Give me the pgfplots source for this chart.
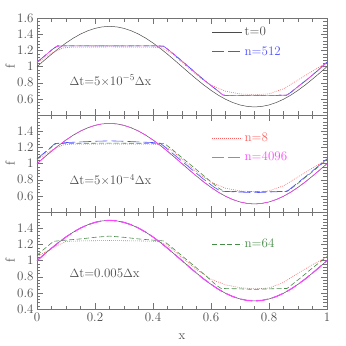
\documentclass[border=0pt]{standalone}
\usepackage{pgfplots}
\pgfplotsset{compat=1.18}
\usepackage{pgfplotstable}

\definecolor{cblk}{RGB}{75,75,75}
\definecolor{cred}{RGB}{255,95,95}
\definecolor{cgreen}{RGB}{70,140,70}
\definecolor{cblue}{RGB}{80,80,255}
\definecolor{cmag}{RGB}{255,70,255}

% initial profile, t=0
\pgfplotstableread{
x f
0 1.0
0.025 1.0782
0.05 1.1545
0.075 1.2270
0.1 1.2939
0.125 1.3536
0.15 1.4045
0.175 1.4455
0.2 1.4755
0.225 1.4938
0.25 1.5
0.275 1.4938
0.3 1.4755
0.325 1.4455
0.35 1.4045
0.375 1.3536
0.4 1.2939
0.425 1.2270
0.45 1.1545
0.475 1.0782
0.5 1.0
0.525 0.9218
0.55 0.8455
0.575 0.7730
0.6 0.7061
0.625 0.6464
0.65 0.5955
0.675 0.5545
0.7 0.5245
0.725 0.5062
0.75 0.5
0.775 0.5062
0.8 0.5245
0.825 0.5545
0.85 0.5955
0.875 0.6464
0.9 0.7061
0.925 0.7730
0.95 0.8455
0.975 0.9218
1.0 1.0
}\sine

% flattened profile (small dt)
\pgfplotstableread{
x f
0 1.055
0.02 1.115
0.04 1.175
0.055 1.22
0.07 1.256
0.1 1.258
0.25 1.258
0.4 1.258
0.436 1.255
0.46 1.19
0.5 1.07
0.54 0.945
0.58 0.822
0.62 0.71
0.64 0.65
0.65 0.643
0.75 0.643
0.86 0.645
0.875 0.68
0.9 0.752
0.94 0.866
0.97 0.958
1.0 1.055
}\flat

% n=8
\pgfplotstableread{
x f
0 1.05
0.03 1.12
0.06 1.185
0.09 1.232
0.12 1.242
0.25 1.245
0.4 1.242
0.43 1.232
0.47 1.15
0.52 0.99
0.56 0.87
0.6 0.77
0.65 0.695
0.7 0.662
0.75 0.652
0.8 0.662
0.85 0.725
0.9 0.835
0.95 0.945
1.0 1.05
}\neight

\pgfplotstableread{
x f
0 1.055
0.02 1.115
0.04 1.175
0.065 1.248
0.1 1.252
0.25 1.255
0.4 1.252
0.44 1.248
0.465 1.18
0.505 1.06
0.545 0.94
0.585 0.82
0.625 0.70
0.645 0.655
0.75 0.652
0.862 0.655
0.875 0.685
0.91 0.785
0.95 0.90
0.975 0.975
1 1.05
}\gtwo

\pgfplotstableread{
x f
0 1.06
0.02 1.12
0.04 1.18
0.062 1.25
0.1 1.262
0.2 1.278
0.25 1.283
0.3 1.278
0.4 1.262
0.425 1.255
0.45 1.18
0.49 1.06
0.53 0.94
0.57 0.82
0.61 0.71
0.632 0.66
0.65 0.655
0.75 0.64
0.85 0.655
0.865 0.665
0.9 0.765
0.94 0.88
0.97 0.97
1 1.06
}\btwo

\pgfplotstableread{
x f
0 1.065
0.02 1.13
0.04 1.19
0.057 1.24
0.1 1.255
0.15 1.27
0.2 1.29
0.25 1.305
0.3 1.29
0.35 1.27
0.4 1.255
0.436 1.245
0.46 1.18
0.5 1.06
0.54 0.94
0.58 0.82
0.62 0.69
0.635 0.655
0.7 0.65
0.75 0.643
0.8 0.65
0.862 0.655
0.875 0.69
0.91 0.79
0.95 0.91
0.975 0.98
1 1.05
}\gthree

\pgfplotstableread{
x f
0 1.05
0.03 1.11
0.06 1.17
0.1 1.24
0.15 1.245
0.25 1.25
0.35 1.245
0.42 1.24
0.45 1.19
0.5 1.04
0.55 0.89
0.6 0.77
0.65 0.70
0.7 0.665
0.75 0.65
0.8 0.66
0.85 0.73
0.9 0.845
0.95 0.95
1 1.05
}\rthree

\pgfplotsset{
  panel/.style={
    width=290pt, height=96.67pt, scale only axis,
    xmin=0, xmax=1, ymin=0.4, ymax=1.6,
    xtick={0,0.2,0.4,0.6,0.8,1}, minor x tick num=3,
    ytick={0.4,0.6,0.8,1,1.2,1.4,1.6}, minor y tick num=4,
    tick align=inside, major tick length=6pt, minor tick length=3.5pt,
    xticklabels={},
    axis line style={black!55},
    every tick/.style={black!55},
    tick label style={font=\fontsize{13}{15}\selectfont, text=cblk},
    ylabel={f},
    ylabel style={at={(axis description cs:-0.093,0.5)}, anchor=center,
      font=\fontsize{13}{15}\selectfont, text=cblk},
    legend style={draw=none, fill=none, font=\fontsize{13}{15}\selectfont,
      row sep=5pt, inner sep=0pt, anchor=north west},
    legend cell align=left,
    legend image code/.code={\draw[##1] (0pt,0pt) -- (30pt,0pt);},
  },
  tzero/.style={cblk, line width=0.5pt},
  neight/.style={cred, line width=0.6pt, dash pattern=on 0.8pt off 1.2pt},
  nsixfour/.style={cgreen, line width=0.6pt, dash pattern=on 5pt off 2.5pt},
  nfive/.style={cblue, line width=0.6pt, dash pattern=on 12pt off 4pt},
  nfour/.style={cmag, line width=0.6pt, dash pattern=on 12pt off 4pt},
}

\newcommand{\lab}{\fontsize{13}{15}\selectfont}

\begin{document}
\begin{tikzpicture}[x=1pt,y=1pt]
% top panel
\begin{axis}[panel, at={(37pt,231pt)}, anchor=south west,
  yticklabels={,0.6,0.8,1,1.2,1.4,1.6},
  legend style={at={(axis description cs:0.603,0.93)}}]
  \addplot[tzero] table {\sine};
  \addlegendentry{\textcolor{cblk}{t=0}}
  \addplot[neight, forget plot] table {\neight};
  \addplot[nsixfour, forget plot] table {\flat};
  \addplot[nfive] table {\flat};
  \addlegendentry{\textcolor{cblue}{n=512}}
  \addplot[nfour, dash phase=8pt, forget plot] table {\flat};
  \node[anchor=west, text=cblk, font=\lab] at (axis description cs:0.1,0.354)
    {$\Delta$t=5$\times$10$^{-5}$$\Delta$x};
\end{axis}
% middle panel
\begin{axis}[panel, at={(37pt,134pt)}, anchor=south west,
  yticklabels={,0.6,0.8,1,1.2,1.4,},
  legend style={at={(axis description cs:0.603,0.84)}}]
  \addplot[tzero, forget plot] table {\sine};
  \addplot[neight] table {\neight};
  \addlegendentry{\textcolor{cred}{n=8}}
  \addplot[nsixfour, forget plot] table {\gtwo};
  \addplot[nfive, forget plot] table {\btwo};
  \addplot[nfour] table {\sine};
  \addlegendentry{\textcolor{cmag}{n=4096}}
  \node[anchor=west, text=cblk, font=\lab] at (axis description cs:0.1,0.33)
    {$\Delta$t=5$\times$10$^{-4}$$\Delta$x};
\end{axis}
% bottom panel
\begin{axis}[panel, at={(37pt,37pt)}, anchor=south west,
  yticklabels={0.4,0.6,0.8,1,1.2,1.4,},
  xticklabels={0,0.2,0.4,0.6,0.8,1},
  xlabel={x},
  xlabel style={at={(axis description cs:0.5,-0.29)}, anchor=center,
    font=\fontsize{13}{15}\selectfont, text=cblk},
  legend style={at={(axis description cs:0.603,0.75)}}]
  \addplot[tzero, forget plot] table {\sine};
  \addplot[neight, forget plot] table {\rthree};
  \addplot[nsixfour] table {\gthree};
  \addlegendentry{\textcolor{cgreen}{n=64}}
  \addplot[nfive, forget plot] table {\sine};
  \addplot[nfour, line width=1.1pt, forget plot] table {\sine};
  \node[anchor=west, text=cblk, font=\lab] at (axis description cs:0.1,0.371)
    {$\Delta$t=0.005$\Delta$x};
\end{axis}
\pgfresetboundingbox
\path (0,0) rectangle (346,346);
\end{tikzpicture}
\end{document}
